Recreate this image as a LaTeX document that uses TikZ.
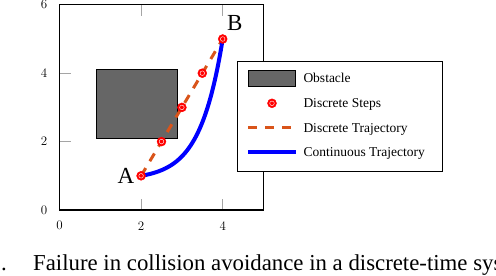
\documentclass[tikz,border=0pt]{standalone}
\usepackage{fontspec}
\usepackage{tikz}
\usetikzlibrary{positioning}
\newfontfamily\tnr{Liberation Serif}
\definecolor{trajorange}{RGB}{217,84,26}
\definecolor{obsgray}{RGB}{102,102,102}
\definecolor{tickgray}{RGB}{165,165,165}

\begin{document}
\begin{tikzpicture}[x=40.8pt, y=34.2pt,
        lbl/.style={font=\tnr\fontsize{23}{26}\selectfont, inner sep=1pt},
        leg/.style={font=\tnr\fontsize{13.5}{16}\selectfont, anchor=west,
                    inner sep=0pt, text height=8.9pt, text depth=0pt},
        ticklbl/.style={font=\fontsize{13}{15}\selectfont, inner sep=0pt},
        dot/.style={circle, fill=red, draw=red, minimum size=9pt, inner sep=0pt,
                    path picture={\draw[white, line width=0.4pt]
                      (path picture bounding box.center) circle (2.3pt);}},
        obst/.style={draw=black, fill=obsgray, line width=0.8pt},
        disc/.style={trajorange, line width=3pt, dash pattern=on 9pt off 8pt},
        cont/.style={blue, line width=4pt},
        captxt/.style={font=\tnr\fontsize{22.8}{26}\selectfont, anchor=base west, inner sep=0pt}]
      \useasboundingbox (-59.5pt,-66pt) rectangle (436.5pt,210pt);
      \clip (-59.5pt,-66pt) rectangle (436.5pt,210pt);
      % obstacle and axis
      \draw[obst] (0.9,2.1) rectangle (2.9,4.1);
      \foreach \t in {2,4} {
        \draw[tickgray, line width=0.6pt] (\t,0) -- ++(0,11pt) (\t,6) -- ++(0,-11pt);
        \draw[tickgray, line width=0.6pt] (0,\t) -- ++(11pt,0) (5,\t) -- ++(-11pt,0);
      }
      \draw[line width=1.1pt] (0,0) rectangle (5,6);
      \foreach \t in {0,2,4} \node[ticklbl, yshift=-15.8pt] at (\t,0) {\t};
      \foreach \t in {0,2,4,6} \node[ticklbl, xshift=-15.5pt] at (0,\t) {\t};
      % trajectories
      \coordinate (pa) at (2,1);
      \coordinate (p1) at (2.5,2);
      \coordinate (p2) at (3,3);
      \coordinate (p3) at (3.5,4);
      \coordinate (pb) at (4,5);
      \draw[disc] (pa) -- (p1) -- (p2) -- (p3) -- (pb);
      \draw[cont] plot[domain=0:1, samples=60, smooth]
        ({2+2*\x},{1+4*(exp(3.6*\x)-1)/(exp(3.6)-1)});
      \node[dot] (a) at (pa) {};
      \node[dot] (s1) at (p1) {};
      \node[dot] (s2) at (p2) {};
      \node[dot] (s3) at (p3) {};
      \node[dot] (b) at (pb) {};
      \node[lbl, left=1pt of a] {A};
      \node[lbl, above right=4pt and 0pt of b] {B};
      % legend
      \draw[fill=white, line width=0.9pt] (177.8pt,38.3pt) rectangle (382.8pt,148.3pt);
      \node[obst, minimum width=47.4pt, minimum height=16.6pt, inner sep=0pt]
        (lobs) at (212.5pt,131.7pt) {};
      \node[dot] (lstep) at (212.5pt,106.7pt) {};
      \coordinate (ldisc) at (212.5pt,82.3pt);
      \coordinate (lcont) at (212.5pt,58.3pt);
      \draw[disc] ([xshift=-23.7pt]ldisc) -- ([xshift=23.7pt]ldisc);
      \draw[cont] ([xshift=-23.7pt]lcont) -- ([xshift=23.7pt]lcont);
      \node[leg] at (243.8pt,131.7pt) {Obstacle};
      \node[leg] at (243.8pt,106.7pt) {Discrete Steps};
      \node[leg] at (243.8pt,82.3pt) {Discrete Trajectory};
      \node[leg] at (243.8pt,58.3pt) {Continuous Trajectory};
      % caption
      \node[captxt] (capnum) at (-58.5pt,-60pt) {.};
      \node[captxt] (captext) at (-26.5pt,-60pt)
        {Failure in collision avoidance in a discrete-time system};
    \end{tikzpicture}
\end{document}
